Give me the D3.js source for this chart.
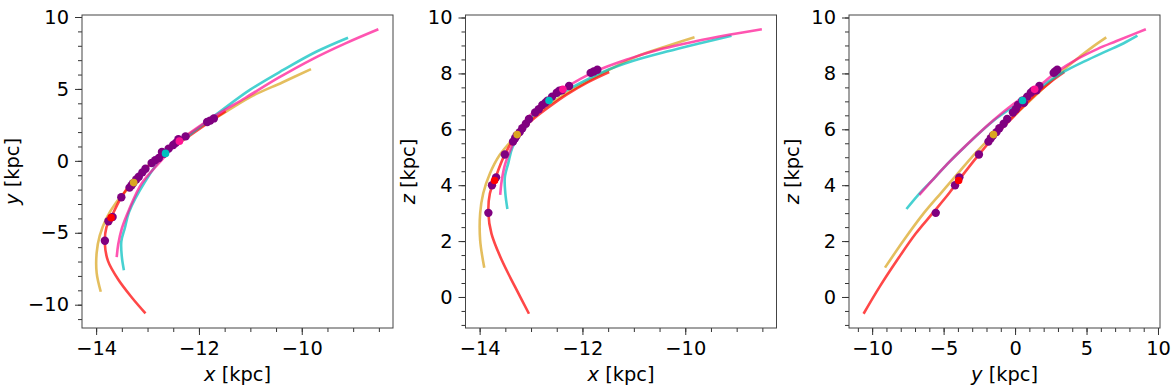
<!DOCTYPE html>
<html>
<head>
<meta charset="utf-8">
<script src="https://cdn.jsdelivr.net/npm/d3@7"></script>
<style>
  html, body { margin: 0; padding: 0; background: #fff; }
  svg { display: block; font-family: "DejaVu Sans", sans-serif; }
</style>
</head>
<body>
<svg id="chart" width="1172" height="387"></svg>
<script>
// ---------------- data ----------------
// Orbit: red
const redX = [-13.04, -13.31, -13.57, -13.77, -13.83, -13.80, -13.71, -13.53, -13.30, -13.00, -12.65, -12.30, -11.90, -11.48];
const redY = [-10.60, -9.48, -8.25, -6.95, -5.78, -4.62, -3.95, -2.65, -1.45, -0.40, 0.55, 1.45, 2.45, 3.45];
const redZ = [-0.60, 0.36, 1.32, 2.27, 2.99, 3.71, 4.17, 5.02, 5.75, 6.30, 6.80, 7.25, 7.68, 8.05];
// Orbit: goldenrod
const goldX = [-13.91, -13.99, -13.99, -13.93, -13.80, -13.61, -13.27, -12.85, -12.30, -11.48, -10.95, -10.38, -9.82];
const goldY = [-9.10, -7.79, -6.40, -5.20, -4.00, -2.90, -1.51, 0.17, 1.61, 3.40, 4.53, 5.45, 6.38];
const goldZ = [1.05, 2.03, 2.99, 3.71, 4.42, 5.08, 5.81, 6.60, 7.30, 8.13, 8.60, 8.96, 9.29];
// Orbit: pink
const pinkX = [-13.60, -13.57, -13.50, -13.36, -13.12, -12.78, -12.38, -11.74, -11.10, -10.45, -9.80, -9.15, -8.51];
const pinkY = [-6.70, -5.80, -4.70, -3.40, -1.60, -0.16, 1.37, 3.00, 4.37, 5.78, 7.06, 8.17, 9.15];
const pinkZ = [3.65, 4.17, 4.78, 5.44, 6.29, 6.89, 7.43, 8.08, 8.52, 8.88, 9.15, 9.38, 9.58];
// Orbit: cyan
const cyanX = [-13.46, -13.50, -13.51, -13.44, -13.36, -13.05, -12.65, -12.15, -11.59, -11.01, -10.36, -9.71, -9.10];
const cyanY = [-7.60, -6.68, -5.60, -4.65, -3.55, -1.45, 0.52, 1.90, 3.42, 4.93, 6.32, 7.60, 8.56];
const cyanZ = [3.15, 3.71, 4.28, 4.81, 5.36, 6.33, 7.03, 7.55, 8.06, 8.45, 8.78, 9.08, 9.35];

// Stream member stars (purple)
const starX = [-13.83, -13.76, -13.68, -13.51, -13.35, -13.31, -13.28, -13.22, -13.17, -13.10, -13.04, -12.92, -12.85, -12.78, -12.72, -12.68, -12.59, -12.50, -12.45, -12.40, -12.26, -11.84, -11.78, -11.71];
const starY = [-5.55, -4.20, -3.90, -2.53, -1.86, -1.70, -1.55, -1.30, -1.10, -0.80, -0.55, -0.15, 0.05, 0.20, 0.62, 0.50, 0.85, 1.10, 1.25, 1.50, 1.70, 2.70, 2.80, 2.95];
const starZ = [3.01, 4.00, 4.28, 5.10, 5.56, 5.68, 5.78, 5.90, 6.04, 6.20, 6.37, 6.60, 6.72, 6.87, 6.95, 7.02, 7.17, 7.31, 7.38, 7.40, 7.55, 8.02, 8.07, 8.13];

// Present-day positions of the four orbits
const nowNames = ["red", "gold", "pink", "cyan"];
const nowX = [-13.71, -13.27, -12.38, -12.65];
const nowY = [-3.95, -1.51, 1.37, 0.52];
const nowZ = [4.17, 5.81, 7.43, 7.03];

// Tick labels
const xTicksKpc = [-14, -12, -10];
const yTicksP1 = [-10, -5, 0, 5, 10];
const zTicksKpc = [0, 2, 4, 6, 8, 10];
const yTicksP3 = [-10, -5, 0, 5, 10];

// ---------------- styling / layout ----------------
const lineColors = { red: "#ff0000", gold: "#daa520", pink: "#ff1493", cyan: "#00bfbf" };
const dotColors = { red: "#ff0000", gold: "#daa520", pink: "#ff1493", cyan: "#00bfbf" };
// drawing order: gold, red, cyan, pink (pink on top)
const orbits = [
  { name: "gold", x: goldX, y: goldY, z: goldZ },
  { name: "red", x: redX, y: redY, z: redZ },
  { name: "cyan", x: cyanX, y: cyanY, z: cyanZ },
  { name: "pink", x: pinkX, y: pinkY, z: pinkZ }
];
const plotTop = 15, plotBottom = 328, plotWidth = 311;
const xDom = [-14.275, -8.225], yDom = [-11.62, 10.14], zDom = [-1.11, 10.09];

const panels = [
  { left: 82,    h: "x", v: "y", hDom: xDom, vDom: yDom, hTicks: xTicksKpc, hMinor: 0.5, vTicks: yTicksP1, vMinor: 1,   hLabel: "x", vLabel: "y", vLabelX: 12 },
  { left: 465.5, h: "x", v: "z", hDom: xDom, vDom: zDom, hTicks: xTicksKpc, hMinor: 0.5, vTicks: zTicksKpc, vMinor: 0.5, hLabel: "x", vLabel: "z", vLabelX: 408 },
  { left: 849,   h: "y", v: "z", hDom: yDom, vDom: zDom, hTicks: yTicksP3, hMinor: 1,   vTicks: zTicksKpc, vMinor: 0.5, hLabel: "y", vLabel: "z", vLabelX: 792 }
];

const svg = d3.select("#chart");
const fmt = d3.format("d");

function minorVals(dom, step) {
  const lo = Math.ceil(Math.min(...dom) / step) * step;
  const hi = Math.max(...dom);
  return d3.range(lo, hi + 1e-9, step);
}

panels.forEach((p, pi) => {
  const sx = d3.scaleLinear().domain(p.hDom).range([p.left, p.left + plotWidth]);
  const sy = d3.scaleLinear().domain(p.vDom).range([plotBottom, plotTop]);
  const g = svg.append("g");

  const clipId = "clip" + pi;
  g.append("clipPath").attr("id", clipId).append("rect")
    .attr("x", p.left).attr("y", plotTop).attr("width", plotWidth).attr("height", plotBottom - plotTop);

  const plot = g.append("g").attr("clip-path", `url(#${clipId})`);

  // orbit lines
  orbits.forEach(o => {
    const pts = o[p.h].map((_, i) => [o[p.h][i], o[p.v][i]]);
    plot.append("path")
      .attr("d", d3.line().x(d => sx(d[0])).y(d => sy(d[1])).curve(d3.curveCatmullRom.alpha(0.5))(pts))
      .attr("fill", "none")
      .attr("stroke", lineColors[o.name])
      .attr("stroke-opacity", 0.72)
      .attr("stroke-width", 2.6)
      .attr("stroke-linecap", "butt");
  });

  // stream stars
  const hs = { x: starX, y: starY, z: starZ };
  plot.selectAll(null).data(d3.range(starX.length)).enter().append("circle")
    .attr("cx", i => sx(hs[p.h][i]))
    .attr("cy", i => sy(hs[p.v][i]))
    .attr("r", 4.2)
    .attr("fill", "#800080");

  // present positions
  const hn = { x: nowX, y: nowY, z: nowZ };
  plot.selectAll(null).data(d3.range(nowNames.length)).enter().append("circle")
    .attr("cx", i => sx(hn[p.h][i]))
    .attr("cy", i => sy(hn[p.v][i]))
    .attr("r", 3.8)
    .attr("fill", i => dotColors[nowNames[i]]);

  // axes
  const xMaj = d3.axisBottom(sx).tickValues(p.hTicks).tickFormat(fmt).tickSize(7).tickPadding(6);
  const xMin = d3.axisBottom(sx).tickValues(minorVals(p.hDom, p.hMinor)).tickFormat("").tickSize(4);
  const yMaj = d3.axisLeft(sy).tickValues(p.vTicks).tickFormat(fmt).tickSize(7).tickPadding(6);
  const yMin = d3.axisLeft(sy).tickValues(minorVals(p.vDom, p.vMinor)).tickFormat("").tickSize(4);

  [[xMin, "x"], [xMaj, "x"], [yMin, "y"], [yMaj, "y"]].forEach(([ax, k]) => {
    const a = g.append("g")
      .attr("transform", k === "x" ? `translate(0,${plotBottom})` : `translate(${p.left},0)`)
      .call(ax);
    a.select(".domain").remove();
    a.selectAll("line").attr("stroke", "#333").attr("stroke-width", 1);
    a.selectAll("text").attr("fill", "#000").style("font-size", "19.4px").style("font-family", "DejaVu Sans, sans-serif");
  });

  // frame
  g.append("rect")
    .attr("x", p.left).attr("y", plotTop).attr("width", plotWidth).attr("height", plotBottom - plotTop)
    .attr("fill", "none").attr("stroke", "#444").attr("stroke-width", 1);

  // axis labels
  const hl = g.append("text")
    .attr("x", p.left + plotWidth / 2).attr("y", 381)
    .attr("text-anchor", "middle")
    .style("font-size", "19.4px").attr("fill", "#000");
  hl.append("tspan").style("font-style", "italic").text(p.hLabel);
  hl.append("tspan").text(" [kpc]");

  const vl = g.append("text")
    .attr("transform", `translate(${p.vLabelX},${(plotTop + plotBottom) / 2}) rotate(-90)`)
    .attr("text-anchor", "middle")
    .attr("dy", "0.35em")
    .style("font-size", "19.4px").attr("fill", "#000");
  vl.append("tspan").style("font-style", "italic").text(p.vLabel);
  vl.append("tspan").text(" [kpc]");
});
</script>
</body>
</html>
